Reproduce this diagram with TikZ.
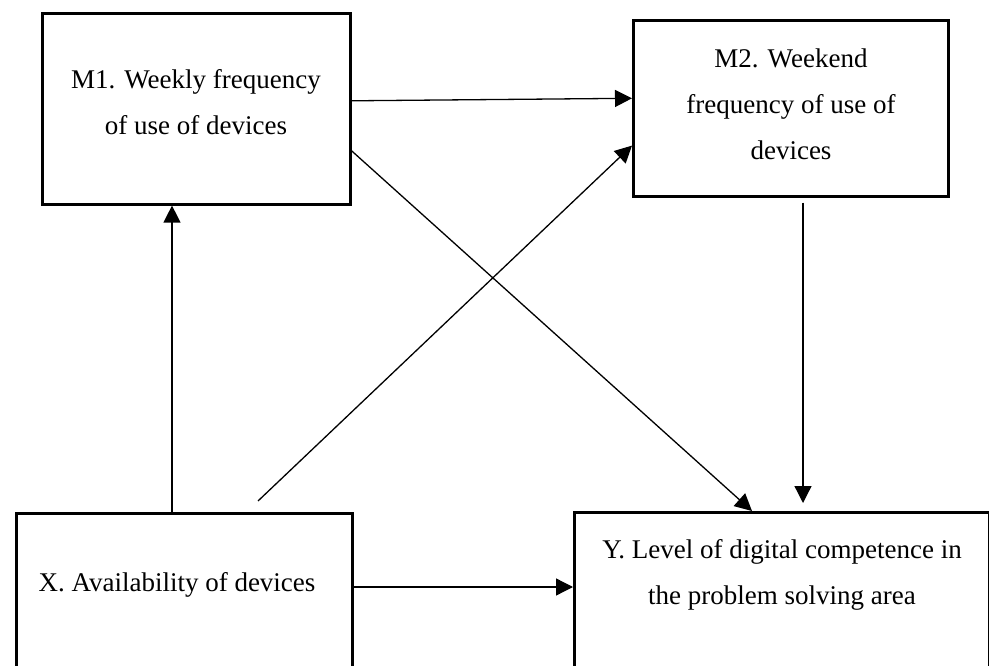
\documentclass[tikz,border=0pt]{standalone}
\usepackage{fontspec}
\setmainfont{Liberation Serif}
\usetikzlibrary{arrows.meta, positioning}

\begin{document}
\begin{tikzpicture}[x=1pt, y=-1pt,
  box/.style={draw, line width=2.6pt, anchor=north west, inner sep=0pt},
  lbl/.style={align=center, inner sep=0pt, font=\fontsize{27}{46}\selectfont},
  arr/.style={-{Triangle[length=17pt, width=17pt]}, line width=1.3pt}]
  \path[use as bounding box, fill=white] (0,0) rectangle (989,666);

  % boxes
  \node[box, minimum width=308, minimum height=191] (m1) at (41,12) {};
  \node[box, minimum width=315, minimum height=176] (m2) at (632,19) {};
  \node[box, minimum width=336, minimum height=200] (x) at (15,512) {};
  \node[box, minimum width=415, minimum height=200] (y) at (573,511) {};

  % texts
  \node[lbl] (m1txt) at (196,102) {M1. Weekly frequency\\of use of devices};
  \node[lbl] (m2txt) at (791,104) {M2. Weekend\\frequency of use of\\devices};
  \node[lbl] (xtxt) at (177,585) {X. Availability of devices};
  \node[lbl] (ytxt) at (782,575) {Y. Level of digital competence in\\the problem solving area};

  % paths
  \draw[arr] ([xshift=157]x.north west) -- ([xshift=131]m1.south west);
  \draw[arr] ([xshift=243, yshift=11]x.north west) -- ([yshift=52]m2.south west);
  \draw[arr] ([yshift=8]m1.east) -- ([yshift=10]m2.west);
  \draw[arr] ([yshift=-42]m1.east) -- ([xshift=179]y.north west);
  \draw[arr] ([xshift=171, yshift=-5]m2.south west) -- ([xshift=230, yshift=8]y.north west);
  \draw[arr] ([yshift=-75]x.north east) -- ([yshift=-76]y.north west);
\end{tikzpicture}
\end{document}
